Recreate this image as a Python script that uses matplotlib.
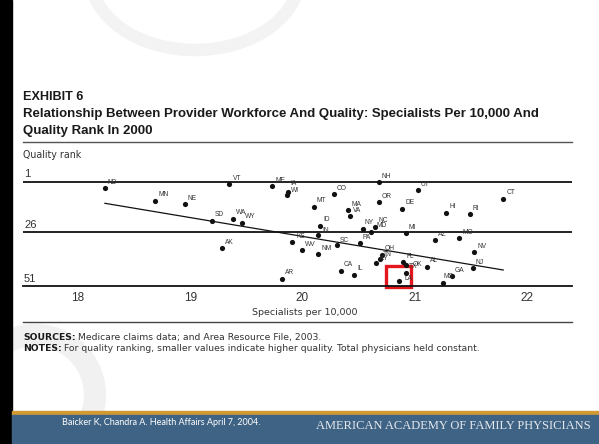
import matplotlib
matplotlib.use("Agg")
import matplotlib.pyplot as plt
from matplotlib.patches import Rectangle, Ellipse
from matplotlib.lines import Line2D
from matplotlib.transforms import offset_copy

# ---------------- data ----------------
states = ["ND", "MN", "NE", "VT", "ME", "IA", "WI", "MT", "SD", "WA",
          "WY", "ID", "IN", "AK", "KS", "WV", "NM", "AR", "NH", "CO",
          "UT", "OR", "MA", "VA", "DE", "HI", "NY", "NC", "MD", "PA",
          "MI", "AZ", "SC", "OH", "TN", "KY", "CA", "IL", "FL", "OK",
          "AL", "TX", "LA", "GA", "MS", "NJ", "NV", "MO", "RI", "CT"]
specialists = [18.24, 18.69, 18.95, 19.35, 19.73, 19.87, 19.86, 20.10, 19.19, 19.38,
               19.46, 20.16, 20.14, 19.28, 19.91, 20.00, 20.14, 19.82, 20.68, 20.28,
               21.03, 20.68, 20.41, 20.42, 20.89, 21.28, 20.54, 20.65, 20.61, 20.51,
               20.92, 21.18, 20.31, 20.71, 20.69, 20.66, 20.34, 20.46, 20.90, 20.92,
               21.11, 20.92, 20.86, 21.33, 21.25, 21.52, 21.53, 21.40, 21.49, 21.79]
quality_rank = [4.2, 10.4, 12.2, 2.0, 3.0, 6.2, 7.5, 13.4, 20.5, 19.5,
                21.4, 22.9, 27.5, 34.2, 31.0, 35.0, 37.0, 49.5, 1.0, 7.0,
                5.0, 11.0, 15.0, 18.0, 14.5, 16.4, 24.7, 23.5, 25.8, 31.7,
                26.7, 30.0, 32.5, 37.5, 39.5, 41.5, 45.5, 47.3, 41.0, 42.5,
                43.5, 46.4, 50.5, 48.0, 51.5, 44.2, 36.0, 29.0, 17.2, 9.4]
fit_x = [18.24, 21.79]
fit_rank = [11.65, 45.0]
x_ticks = [18, 19, 20, 21, 22]
y_ticks = ["1", "26", "51"]

# label offsets (pixels) for crowded points
offsets = {"IA": (3, -9), "WI": (4, -4), "IN": (4, -5), "KS": (4, -5),
           "NY": (2, -7), "MD": (6, -6), "SC": (3, -5), "OK": (7, 0),
           "LA": (6, -3), "MS": (1, -6), "KY": (3, -5), "TN": (3, -5), "OH": (3, -6)}

W, H = 599, 444
fig = plt.figure(figsize=(W / 100, H / 100), dpi=100)
fig.patch.set_facecolor("white")
SANS = ["Liberation Sans", "DejaVu Sans"]
WIDE = ["DejaVu Sans"]


def fx(px):
    return px / W


def fy(py):
    return 1 - py / H


# background decorations
bg = fig.add_axes([0, 0, 1, 1], zorder=-5)
bg.set_xlim(0, W)
bg.set_ylim(H, 0)
bg.axis("off")
bg.add_patch(Ellipse((195, -25), 210, 150, fill=False, lw=9, ec="#f3f3f3"))
bg.add_patch(Ellipse((35, 395), 120, 120, fill=False, lw=16, ec="#f1f1f1"))
bg.add_patch(Rectangle((0, 0), 12, H, color="black"))
bg.add_patch(Rectangle((12, 411), W - 12, 4, color="#d39a33"))
bg.add_patch(Rectangle((12, 415), W - 12, H - 415, color="#3f6384"))
bg.add_line(Line2D([23, 572], [142, 142], color="#555555", lw=1.0))
bg.add_line(Line2D([23, 572], [322, 322], color="#444444", lw=1.0))

# ---------------- scatter axes ----------------
ax_left, ax_right, ax_top, ax_bot = 23, 572, 168, 286
ax = fig.add_axes([fx(ax_left), fy(ax_bot), (ax_right - ax_left) / W, (ax_bot - ax_top) / H])
ax.set_facecolor("none")
xmin = 18 + (ax_left - 78) / 112.2
xmax = 18 + (ax_right - 78) / 112.2
ax.set_xlim(xmin, xmax)
ax.set_ylim(53, -6)
for s in ["top", "left", "right"]:
    ax.spines[s].set_visible(False)
ax.spines["bottom"].set_linewidth(1.3)
ax.spines["bottom"].set_color("#111111")
ax.axhline(1, color="#111111", lw=1.3, zorder=1)
ax.axhline(26, color="#111111", lw=1.3, zorder=1)
ax.set_yticks([])
ax.set_xticks(x_ticks)
ax.set_xticklabels([str(t) for t in x_ticks], fontsize=8.5, color="#333333", family=SANS)
ax.tick_params(axis="x", length=0, pad=4)

ax.plot(fit_x, fit_rank, color="#111111", lw=0.9, zorder=2)
ax.scatter(specialists, quality_rank, s=14, color="#111111", zorder=3, linewidths=0)

for st, xv, yv in zip(states, specialists, quality_rank):
    dx, dy = offsets.get(st, (3, -6))
    tr = offset_copy(ax.transData, fig=fig, x=dx * 0.72, y=-dy * 0.72, units="points")
    ax.text(xv, yv, st, transform=tr, fontsize=4.8, color="#333333",
            ha="left", va="center", family=SANS, zorder=4)

# y labels
for lab, py in zip(y_ticks, [174, 225, 279]):
    fig.text(fx(24), fy(py), lab, fontsize=8, color="#333333", ha="left", va="center", family=SANS)

fig.text(fx(305), fy(312), "Specialists per 10,000", fontsize=6.8, color="#333333",
         ha="center", va="center", family=WIDE)

# red highlight box
bg.add_patch(Rectangle((386, 265.5), 25, 21.5, fill=False, ec="#e3161b", lw=2.4, zorder=10))

# ---------------- titles & notes ----------------
fig.canvas.draw()
renderer = fig.canvas.get_renderer()


def fit_text(px, py, s, target_w, weight="normal", color="#222222", size0=8, family=SANS):
    t = fig.text(fx(px), fy(py), s, fontsize=size0, fontweight=weight, color=color,
                 ha="left", va="center", family=family)
    w = t.get_window_extent(renderer).width
    t.set_fontsize(size0 * target_w / w)
    return t


fit_text(23, 97, "EXHIBIT 6", 60, weight="bold", color="#1a1a1a")
t2 = fit_text(23, 114, "Relationship Between Provider Workforce And Quality: Specialists Per 10,000 And",
              520, weight="bold", color="#1a1a1a")
fig.text(fx(23), fy(131), "Quality Rank In 2000", fontweight="bold", color="#1a1a1a",
         ha="left", va="center", family=SANS, fontsize=t2.get_fontsize())
fit_text(23, 155, "Quality rank", 59, color="#333333", family=WIDE)


def two_part(px, py, bold, rest, size):
    tb = fig.text(fx(px), fy(py), bold, fontsize=size, fontweight="bold", color="#1a1a1a",
                  ha="left", va="center", family=WIDE)
    fig.canvas.draw()
    wb = tb.get_window_extent(renderer).width
    fig.text(fx(px + wb + 2), fy(py), rest, fontsize=size, color="#333333",
             ha="left", va="center", family=WIDE)


# size the NOTES line to its width, reuse the size for SOURCES
probe = fig.text(0, 0, "NOTES: For quality ranking, smaller values indicate higher quality. Total physicians held constant.",
                 fontsize=6, family=WIDE)
fig.canvas.draw()
note_size = 6 * 458 / probe.get_window_extent(renderer).width
probe.remove()
two_part(23, 337, "SOURCES:", "Medicare claims data; and Area Resource File, 2003.", note_size)
two_part(23, 348, "NOTES:", "For quality ranking, smaller values indicate higher quality. Total physicians held constant.", note_size)

fit_text(62, 422, "Baicker K, Chandra A. Health Affairs April 7, 2004.", 200, color="white",
         family=["Liberation Sans Narrow", "Lato", "DejaVu Sans"])
fit_text(316, 426, "AMERICAN ACADEMY OF FAMILY PHYSICIANS", 277, color="#e6e9ee",
         family=["Liberation Serif", "DejaVu Serif"])

fig.savefig("out.png", dpi=100, facecolor="white")
